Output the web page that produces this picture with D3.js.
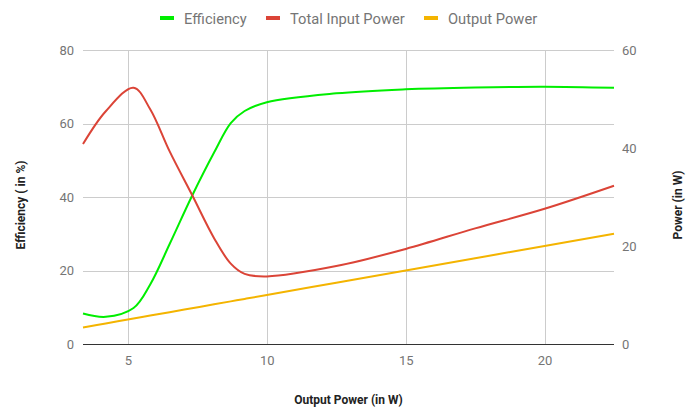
<!DOCTYPE html>
<meta charset="utf-8">
<style>
  body { margin: 0; background: #fff; }
  svg { font-family: Roboto, sans-serif; }
  .grid line { stroke: #ccc; stroke-width: 1px; }
  .tick text { fill: #757575; font-size: 13px; }
  .title { fill: #222; font-size: 12px; font-weight: bold; }
  .legend text { fill: #757575; font-size: 14.7px; }
</style>
<body>
<svg width="696" height="412"></svg>
<script src="https://cdn.jsdelivr.net/npm/d3@7"></script>
<script>
  // output power (W) along x
  var outW = [3.38, 4.2, 5.2, 5.8, 6.5, 7.3, 8.1, 8.7, 9.2, 10, 12.5, 15, 17.5, 20, 22.5];
  // efficiency in %
  var efficiency = [8.3, 7.4, 9.8, 16.2, 27.2, 40.2, 52.1, 60.1, 63.4, 65.8, 68.2, 69.3, 69.8, 70, 69.7];
  // total input power in W
  var inputPower = [40.8, 47.5, 52.3, 47.9, 39.3, 30.5, 21.6, 16.4, 14.3, 13.8, 15.9, 19.4, 23.6, 27.6, 32.3];
  // output power in W
  var outputPower = outW.slice();

  var xTicks = [5, 10, 15, 20];
  var effTicks = [0, 20, 40, 60, 80];
  var powTicks = [0, 20, 40, 60];

  var series = [
    { name: "Efficiency", color: "#00ee00", vals: efficiency, axis: "left" },
    { name: "Total Input Power", color: "#db4437", vals: inputPower, axis: "right" },
    { name: "Output Power", color: "#f4b400", vals: outputPower, axis: "right" }
  ];

  var svg = d3.select("svg"),
    pLeft = 83, pRight = 614, pTop = 50, pBottom = 344;

  var x = d3.scaleLinear().domain([3.38, 22.5]).range([pLeft, pRight]);
  var yL = d3.scaleLinear().domain([0, 80]).range([pBottom, pTop]);
  var yR = d3.scaleLinear().domain([0, 60]).range([pBottom, pTop]);

  // gridlines
  var grid = svg.append("g").attr("class", "grid");
  grid.selectAll(".h").data(effTicks.slice(1)).enter().append("line")
    .attr("x1", pLeft).attr("x2", pRight)
    .attr("y1", function(d) { return Math.round(yL(d)) + 0.5; })
    .attr("y2", function(d) { return Math.round(yL(d)) + 0.5; });
  grid.selectAll(".v").data(xTicks).enter().append("line")
    .attr("x1", function(d) { return Math.round(x(d)) + 0.5; })
    .attr("x2", function(d) { return Math.round(x(d)) + 0.5; })
    .attr("y1", pTop).attr("y2", pBottom);

  // axes (labels only)
  var gx = svg.append("g").attr("transform", "translate(0," + pBottom + ")")
    .call(d3.axisBottom(x).tickValues(xTicks).tickSize(0).tickPadding(12));
  var gl = svg.append("g").attr("transform", "translate(" + pLeft + ",0)")
    .call(d3.axisLeft(yL).tickValues(effTicks).tickSize(0).tickPadding(9));
  var gr = svg.append("g").attr("transform", "translate(" + pRight + ",0)")
    .call(d3.axisRight(yR).tickValues(powTicks).tickSize(0).tickPadding(8));
  [gx, gl, gr].forEach(function(g) {
    g.select(".domain").remove();
    g.attr("font-family", null).attr("font-size", null);
  });

  // baseline
  svg.append("line")
    .attr("x1", pLeft).attr("x2", pRight)
    .attr("y1", pBottom + 0.5).attr("y2", pBottom + 0.5)
    .attr("stroke", "#333").attr("stroke-width", 1);

  // lines
  series.forEach(function(s) {
    var y = s.axis == "left" ? yL : yR;
    var line = d3.line()
      .x(function(d, i) { return x(outW[i]); })
      .y(function(d) { return y(d); })
      .curve(d3.curveCatmullRom.alpha(0.5));
    svg.append("path")
      .datum(s.vals)
      .attr("d", line)
      .attr("fill", "none")
      .attr("stroke", s.color)
      .attr("stroke-width", 2);
  });

  // axis titles
  svg.append("text").attr("class", "title")
    .attr("x", (pLeft + pRight) / 2).attr("y", 404)
    .attr("text-anchor", "middle").text("Output Power (in W)");
  svg.append("text").attr("class", "title")
    .attr("transform", "translate(25,205) rotate(-90)")
    .attr("text-anchor", "middle").text("Efficiency ( in %)");
  svg.append("text").attr("class", "title")
    .attr("transform", "translate(682,205) rotate(-90)")
    .attr("text-anchor", "middle").text("Power (in W)");

  // legend
  var legX = [160, 266, 424];
  var leg = svg.append("g").attr("class", "legend");
  series.forEach(function(s, i) {
    leg.append("rect")
      .attr("x", legX[i]).attr("y", 16)
      .attr("width", 14).attr("height", 4)
      .attr("fill", s.color);
    leg.append("text")
      .attr("x", legX[i] + 24).attr("y", 23.5)
      .text(s.name);
  });
</script>
</body>
